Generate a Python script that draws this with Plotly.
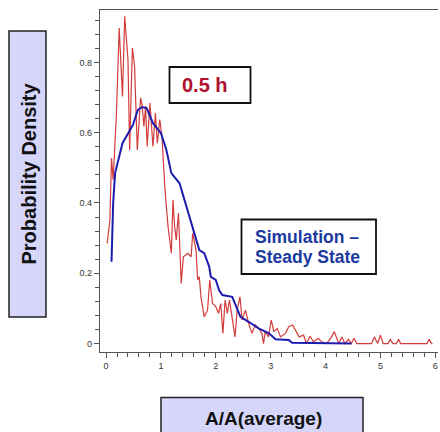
import plotly.graph_objects as go

# ---- data ----
red_x = [0.02, 0.04, 0.07, 0.10, 0.13, 0.19, 0.24, 0.30, 0.34, 0.40, 0.43, 0.48, 0.52, 0.57,
         0.63, 0.66, 0.69, 0.72, 0.75, 0.80, 0.855, 0.90, 0.935, 0.98, 1.02, 1.07, 1.10, 1.13,
         1.19, 1.22, 1.25, 1.28, 1.32, 1.37, 1.41, 1.49, 1.55, 1.58, 1.64, 1.67, 1.70, 1.73,
         1.79, 1.85, 1.89, 1.94, 2.0, 2.05, 2.09, 2.13, 2.17, 2.21, 2.25, 2.30, 2.35, 2.39,
         2.44, 2.48, 2.54, 2.60, 2.66, 2.72, 2.78, 2.84, 2.87, 2.90, 2.96, 3.01, 3.06, 3.12,
         3.18, 3.27, 3.33, 3.40, 3.46, 3.52, 3.60, 3.65, 3.72, 3.78, 3.87, 3.93, 4.02, 4.11,
         4.16, 4.20, 4.24, 4.30, 4.35, 4.42, 4.47, 4.52, 4.57, 4.84, 4.89, 4.95, 5.0, 5.05,
         5.14, 5.18, 5.23, 5.29, 5.33, 5.37, 5.85, 5.89, 5.93, 5.95]
red_y = [0.285, 0.314, 0.35, 0.528, 0.466, 0.656, 0.898, 0.703, 0.931, 0.808, 0.551, 0.841,
         0.789, 0.551, 0.699, 0.675, 0.618, 0.675, 0.561, 0.684, 0.561, 0.656, 0.570, 0.637,
         0.589, 0.447, 0.390, 0.333, 0.257, 0.409, 0.333, 0.295, 0.371, 0.171, 0.247, 0.257,
         0.247, 0.314, 0.266, 0.181, 0.19, 0.133, 0.076, 0.095, 0.181, 0.114, 0.105, 0.086,
         0.114, 0.029, 0.124, 0.086, 0.124, 0.067, 0.019, 0.095, 0.133, 0.067, 0.095, 0.057,
         0.029, 0.053, 0.043, 0.029, 0.0, 0.034, 0.019, 0.067, 0.034, 0.043, 0.019, 0.029,
         0.048, 0.053, 0.034, 0.019, 0.024, 0.001, 0.021, 0.005, 0.015, 0.005, 0.0, 0.019,
         0.034, 0.015, 0.0, 0.019, 0.0, 0.012, 0.0, 0.015, 0.0, 0.0, 0.019, 0.0, 0.024, 0.0,
         0.0, 0.012, 0.0, 0.0, 0.012, 0.0, 0.0, 0.012, 0.0, 0.0]

blue_x = [0.10, 0.13, 0.165, 0.30, 0.49, 0.58, 0.66, 0.74, 0.855, 1.0, 1.10, 1.19, 1.34, 1.45,
          1.61, 1.70, 1.79, 1.88, 1.91, 2.0, 2.06, 2.12, 2.30, 2.45, 2.60, 2.78, 2.97, 3.09,
          3.33, 3.39, 4.47]
blue_y = [0.233, 0.40, 0.485, 0.570, 0.622, 0.665, 0.673, 0.670, 0.627, 0.599, 0.551, 0.485,
          0.456, 0.40, 0.314, 0.266, 0.257, 0.219, 0.19, 0.181, 0.152, 0.138, 0.133, 0.076,
          0.062, 0.043, 0.029, 0.012, 0.010, 0.002, 0.0]

x_ticks = [0, 1, 2, 3, 4, 5, 6]
y_ticks = [0, 0.2, 0.4, 0.6, 0.8]
y_tick_labels = ["0", "0.2", "0.4", "0.6", "0.8"]

y_title = "Probability Density"
x_title = "A/A(average)"
label_time = "0.5 h"
label_sim = ["Simulation –", "Steady State"]

# ---- layout geometry (page pixels; page body margin removed) ----
W, H = 440, 432
L, T = 100, 10
PW = 338
PH = 342
R = W - L - PW
B = H - T - PH


def px(x):
    return (x - L) / PW


def py(y):
    return (T + PH - y) / PH


FONT = "Liberation Sans, Arial, sans-serif"

fig = go.Figure()
fig.add_trace(go.Scatter(x=red_x, y=red_y, mode="lines",
                         line=dict(color="#d43c3c", width=1.2), showlegend=False))
fig.add_trace(go.Scatter(x=blue_x, y=blue_y, mode="lines",
                         line=dict(color="#1c1cb0", width=2), showlegend=False))

fig.update_layout(
    width=W, height=H,
    margin=dict(l=L, r=R, t=T, b=B, pad=0),
    paper_bgcolor="white", plot_bgcolor="white",
    font=dict(family=FONT),
    xaxis=dict(range=[-0.11, 6.05], tickvals=x_ticks, showgrid=False, zeroline=False,
               showline=True, linecolor="#555", linewidth=1.2, mirror=True,
               ticks="outside", ticklen=5, tickcolor="#555", tickwidth=1,
               tickfont=dict(size=9, color="#333"), ticklabeloverflow="allow",
               minor=dict(dtick=0.2, ticks="outside", ticklen=4, tickcolor="#555")),
    yaxis=dict(range=[-0.024, 0.949], tickvals=y_ticks, ticktext=y_tick_labels,
               showgrid=False, zeroline=False,
               showline=True, linecolor="#555", linewidth=1.2,
               ticks="outside", ticklen=5, tickcolor="#555", tickwidth=1,
               tickfont=dict(size=9, color="#333"), ticklabeloverflow="allow",
               minor=dict(dtick=0.04, ticks="outside", ticklen=4, tickcolor="#555")),
)

shapes = [
    # y title box
    dict(type="rect", xref="paper", yref="paper", x0=px(9), x1=px(46), y0=py(317), y1=py(31),
         fillcolor="#d6d6fb", line=dict(color="#222", width=1.5), layer="above"),
    # x title box
    dict(type="rect", xref="paper", yref="paper", x0=px(161), x1=px(363), y0=py(445), y1=py(397.5),
         fillcolor="#d6d6fb", line=dict(color="#222", width=1.5), layer="above"),
    # 0.5 h box
    dict(type="rect", xref="paper", yref="paper", x0=px(169.5), x1=px(250.5), y0=py(103), y1=py(67),
         fillcolor="white", line=dict(color="#111", width=1.8), layer="above"),
    # simulation box
    dict(type="rect", xref="paper", yref="paper", x0=px(241.5), x1=px(376), y0=py(274), y1=py(219.5),
         fillcolor="white", line=dict(color="#111", width=1.8), layer="above"),
]
fig.update_layout(shapes=shapes)

ann = [
    dict(text=f"<b>{y_title}</b>", x=px(28.5), y=py(174), textangle=-90,
         font=dict(size=20, color="#111", family=FONT)),
    dict(text=f"<b>{x_title}</b>", x=px(263), y=py(418),
         font=dict(size=19, color="#111", family=FONT)),
    dict(text=f"<b>{label_time}</b>", x=px(205), y=py(85),
         font=dict(size=20, color="#b0102e", family=FONT)),
    dict(text=f"<b>{label_sim[0]}</b>", x=px(252.5), y=py(237), xanchor="left",
         font=dict(size=17.5, color="#1a3aa0", family=FONT)),
    dict(text=f"<b>{label_sim[1]}</b>", x=px(252.5), y=py(257), xanchor="left",
         font=dict(size=17.5, color="#1a3aa0", family=FONT)),
]
for a in ann:
    a.setdefault("xanchor", "center")
    fig.add_annotation(xref="paper", yref="paper", showarrow=False, yanchor="middle", **a)

fig.write_html("out.html", config={"displayModeBar": False},
               post_script="document.body.style.margin='0';document.body.style.overflow='hidden';")
